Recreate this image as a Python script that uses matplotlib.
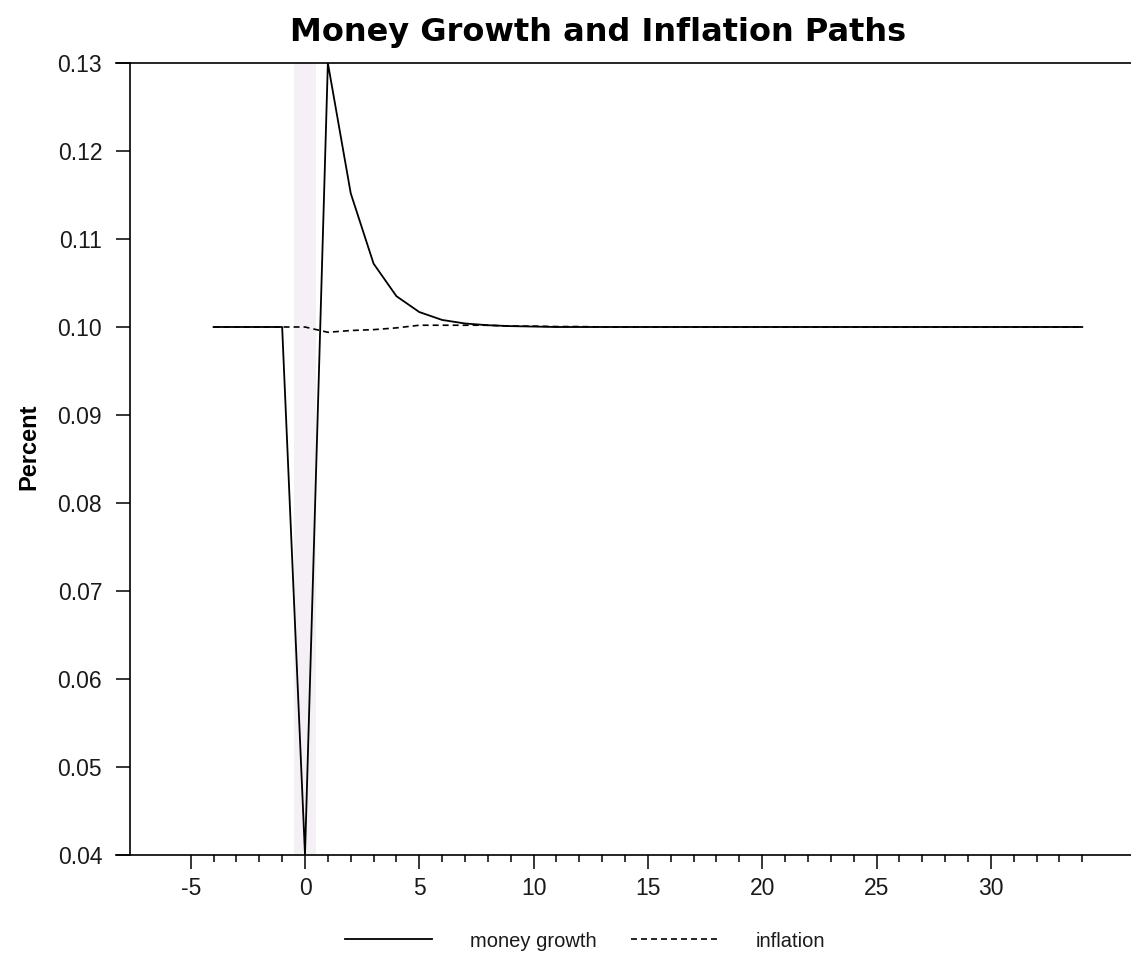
import matplotlib
matplotlib.use("Agg")
import matplotlib.pyplot as plt
from matplotlib.ticker import FixedLocator, FormatStrFormatter

# ---- data ----
periods = list(range(-4, 35))
money_growth = [0.10, 0.10, 0.10, 0.10,           # -4..-1
                0.04, 0.13, 0.1152, 0.1072, 0.1035,  # 0..4
                0.1017, 0.1008, 0.1004, 0.1002, 0.1001,  # 5..9
                0.10005] + [0.10] * 24              # 10..34
inflation = [0.10, 0.10, 0.10, 0.10, 0.10,          # -4..0
             0.0994, 0.0996, 0.0997, 0.0999,        # 1..4
             0.1002, 0.1002, 0.1002, 0.1002, 0.1001,  # 5..9
             0.1001, 0.10005, 0.10005] + [0.10] * 22  # 10..34
shade_span = (-0.5, 0.5)
x_major = [-5, 0, 5, 10, 15, 20, 25, 30]
y_ticks = [0.04, 0.05, 0.06, 0.07, 0.08, 0.09, 0.10, 0.11, 0.12, 0.13]

title = "Money Growth and Inflation Paths"
ylabel = "Percent"
labels = ["money growth", "inflation"]

plt.rcParams['lines.scale_dashes'] = False
plt.rcParams['axes.unicode_minus'] = False

W, H = 1131, 955
fig = plt.figure(figsize=(W / 100, H / 100), dpi=100)
ax = fig.add_axes([116 / W, 1 - 855 / H, 1 - 116 / W, (855 - 63) / H])

px = 22.86
x0 = 305
ax.set_xlim((116 - x0) / px, (W - x0) / px)
ax.set_ylim(0.04, 0.13)

ax.axvspan(shade_span[0], shade_span[1], color='#f5f0f5', lw=0, zorder=0)

l1, = ax.plot(periods, money_growth, color='black', lw=1.3, zorder=3)
l2, = ax.plot(periods, inflation, color='black', lw=1.2, dashes=(4.3, 2.9), zorder=3)

ax.spines['right'].set_visible(False)
ax.spines['left'].set_position(('data', (130 - x0) / px))
for s in ['left', 'top', 'bottom']:
    ax.spines[s].set_linewidth(1.2)

ax.xaxis.set_major_locator(FixedLocator(x_major))
ax.xaxis.set_minor_locator(FixedLocator([v for v in range(-5, 36) if v % 5 != 0]))
ax.set_yticks(y_ticks)
ax.yaxis.set_major_formatter(FormatStrFormatter('%.2f'))
ax.tick_params(axis='both', which='major', direction='out', length=10, width=1.1,
               labelsize=16.5, color='black', labelcolor='#1a1a1a')
ax.tick_params(axis='x', which='major', pad=5.5)
ax.tick_params(axis='y', which='major', pad=10)
ax.tick_params(axis='x', which='minor', direction='out', length=5, width=1.1)
for lab in ax.get_xticklabels() + ax.get_yticklabels():
    lab.set_fontfamily('Liberation Sans')

fig.text(598 / W, 1 - 33 / H, title, ha='center', va='center',
         fontsize=23, fontweight='bold', family='DejaVu Sans')
fig.text(29 / W, 1 - 447 / H, ylabel, ha='center', va='center', rotation=90,
         fontsize=17, fontweight='bold', family='Liberation Sans')

fig.legend([l1, l2], labels, loc='center', bbox_to_anchor=(585 / W, 1 - 941 / H),
           ncol=2, frameon=False, prop={'family': 'Liberation Sans', 'size': 14.5},
           handlelength=4.35, handletextpad=1.84, columnspacing=1.73, labelcolor='#1a1a1a')

fig.savefig("out.png", dpi=100)
